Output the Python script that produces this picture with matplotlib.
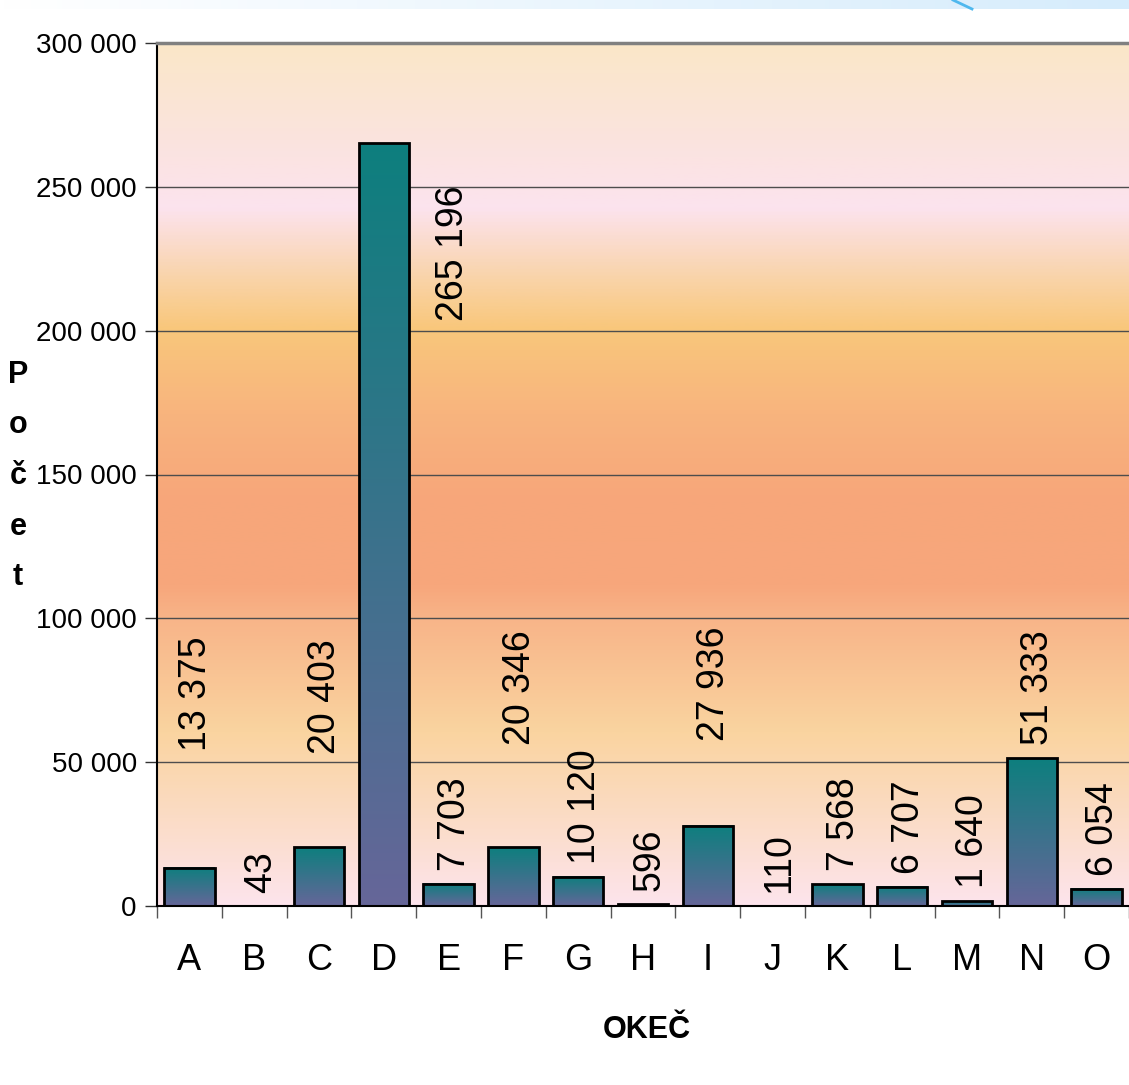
import numpy as np
import matplotlib
matplotlib.use('Agg')
import matplotlib.pyplot as plt
from matplotlib.colors import LinearSegmentedColormap
from matplotlib.lines import Line2D

# data
categories = ['A', 'B', 'C', 'D', 'E', 'F', 'G', 'H', 'I', 'J', 'K', 'L', 'M', 'N', 'O']
counts = [13375, 43, 20403, 265196, 7703, 20346, 10120, 596, 27936, 110,
          7568, 6707, 1640, 51333, 6054]
y_ticks = [0, 50000, 100000, 150000, 200000, 250000, 300000]
x_title = 'OKEČ'
y_title = 'Počet'

# a few labels were dragged by hand in the original (bottom of label, data units)
label_moved = {'A': 54000, 'C': 53000, 'F': 56000, 'I': 57500}


def fmt(v):
    return f"{int(v):,}".replace(',', ' ')


font = 'Liberation Sans'
W, H = 1129, 1085
fig = plt.figure(figsize=(W / 100, H / 100), dpi=100)
ax = fig.add_axes([157 / W, 1 - 906 / H, 1 - 157 / W, (906 - 43) / H])
ax.set_autoscale_on(False)
ax.set_xlim(-0.5, (W - 157) / 65.4 - 0.5)
ax.set_ylim(0, 300000)

# plot area background gradient (bottom -> top)
bg_cmap = LinearSegmentedColormap.from_list('bg', [
    (0.00, '#fde4ec'),
    (0.10, '#fbdcc6'),
    (0.20, '#fad4a0'),
    (0.33, '#f8b589'),
    (0.37, '#f7a77c'),
    (0.47, '#f7a67a'),
    (0.57, '#f8b47e'),
    (0.67, '#f9c77b'),
    (0.72, '#f9d2a2'),
    (0.81, '#fce3ee'),
    (0.87, '#fbe3e2'),
    (1.00, '#fae7c8'),
])
grad = np.linspace(0, 1, 512).reshape(-1, 1)
ax.imshow(grad, cmap=bg_cmap, extent=[0, 1, 0, 1], transform=ax.transAxes,
          origin='lower', aspect='auto', zorder=0)

ax.set_axisbelow(True)
ax.yaxis.grid(True, color='#4d4d4d', linewidth=1)

x = np.arange(len(categories))
bars = ax.bar(x, counts, width=0.78, facecolor='none', edgecolor='black',
              linewidth=2, zorder=3)

bar_cmap = LinearSegmentedColormap.from_list('bar', ['#666699', '#0d7f7e'])
for b in bars:
    ax.imshow(grad, cmap=bar_cmap,
              extent=[b.get_x(), b.get_x() + b.get_width(), 0, b.get_height()],
              origin='lower', aspect='auto', zorder=2)

# value labels
for i, (c, v) in enumerate(zip(categories, counts)):
    if c == 'D':
        ax.text(i + 1.07, 250500, fmt(v), rotation=90, ha='center', va='top',
                fontsize=27, family=font, zorder=4)
        continue
    y = label_moved.get(c, v + 4500)
    ax.text(i + 0.1, y, fmt(v), rotation=90, ha='center', va='bottom',
            fontsize=27, family=font, zorder=4)

# y axis
ax.set_yticks(y_ticks)
ax.set_yticklabels([fmt(t) for t in y_ticks], family=font, fontsize=20)
ax.tick_params(axis='y', direction='out', length=8.5, width=1, color='#333333', pad=6)

# x axis: ticks between categories, labels in the middle
ax.set_xticks(np.arange(-0.5, len(categories)), labels=[])
ax.set_xticks(x, labels=categories, minor=True)
ax.tick_params(axis='x', which='major', direction='out', length=8.5, width=1, color='#555555')
ax.tick_params(axis='x', which='minor', length=0, pad=27, labelsize=26)
for lab in ax.get_xticklabels(minor=True):
    lab.set_family(font)

for side in ['left', 'bottom']:
    ax.spines[side].set_color('black')
    ax.spines[side].set_linewidth(1.5)
ax.spines['top'].set_color('#808080')
ax.spines['top'].set_linewidth(2.5)
ax.spines['right'].set_visible(False)

fig.text(647 / W, 1 - 1030 / H, x_title, ha='center', va='center',
         fontsize=22, fontweight='bold', family=font)
fig.text(18 / W, 1 - 476 / H, '\n'.join(y_title), ha='center', va='center',
         fontsize=22, fontweight='bold', family=font, linespacing=1.9)

# light blue slide strip at the very top
band = fig.add_axes([0, 1 - 9 / H, 1, 9 / H])
band.imshow(np.linspace(0, 1, 256).reshape(1, -1),
            cmap=LinearSegmentedColormap.from_list('band', ['#ffffff', '#d6ecfc']),
            aspect='auto', extent=[0, 1, 0, 1])
band.set_axis_off()
fig.add_artist(Line2D([953 / W, 972 / W], [1, 1 - 9 / H], color='#4fb8ee', lw=2))

fig.savefig('out.png', dpi=100)
